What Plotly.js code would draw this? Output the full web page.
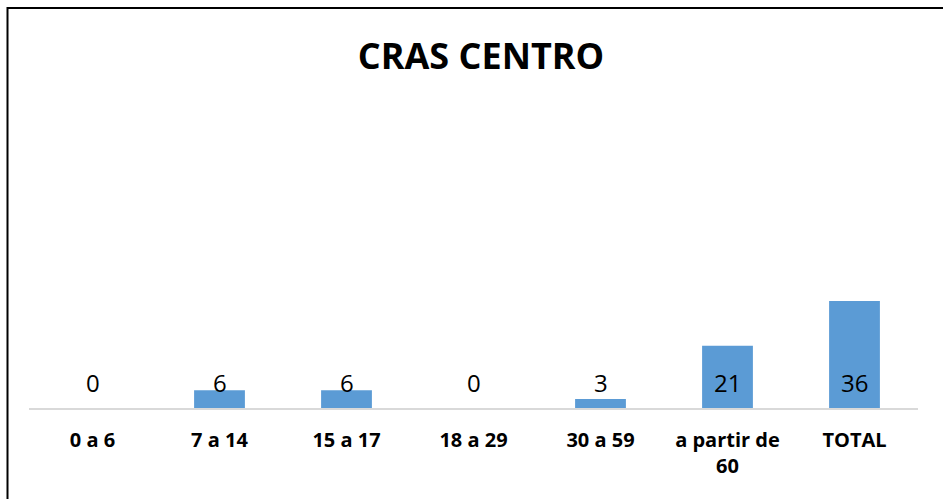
<!DOCTYPE html>
<html>
<head>
<meta charset="utf-8">
<script src="https://cdn.plot.ly/plotly-3.0.1.min.js"></script>
<style>html,body{margin:0;padding:0;background:#fff;}#chart{width:943px;height:499px;}</style>
</head>
<body>
<div id="chart"></div>
<script>
var categories = ["0 a 6", "7 a 14", "15 a 17", "18 a 29", "30 a 59", "a partir de<br>60", "TOTAL"];
var values = [0, 6, 6, 0, 3, 21, 36];
var labelLevel = 8.5;

var annotations = categories.map(function (c, i) {
  return {
    x: c, y: labelLevel, xref: 'x', yref: 'y',
    text: String(values[i]), showarrow: false,
    font: {family: 'Open Sans, sans-serif', size: 24, color: '#000'},
    yanchor: 'middle'
  };
});

var data = [{
  type: 'bar',
  x: categories,
  y: values,
  marker: {color: '#5B9BD5'},
  hoverinfo: 'none'
}];

var layout = {
  width: 943, height: 499,
  margin: {l: 29, r: 25, t: 111, b: 91},
  paper_bgcolor: '#fff', plot_bgcolor: '#fff',
  bargap: 0.6,
  showlegend: false,
  title: {
    text: 'CRAS CENTRO',
    font: {family: 'Open Sans, sans-serif', size: 36, color: '#000', weight: 'bold'},
    x: 481 / 943, xanchor: 'center', xref: 'container',
    y: 1 - 56 / 499, yanchor: 'middle', yref: 'container'
  },
  xaxis: {
    showline: true, linecolor: '#D9D9D9', linewidth: 2,
    ticks: 'outside', ticklen: 13, tickcolor: 'rgba(0,0,0,0)',
    tickfont: {family: 'Open Sans, sans-serif', size: 20, color: '#000', weight: 'bold'},
    showgrid: false, zeroline: false, fixedrange: true
  },
  yaxis: {
    range: [0, 100], visible: false, showgrid: false, zeroline: false, fixedrange: true
  },
  annotations: annotations,
  shapes: [{
    type: 'rect', xref: 'paper', yref: 'paper',
    x0: (7.5 - 29) / 889, x1: (960 - 29) / 889,
    y0: (408 - 520) / 297, y1: (408 - 8) / 297,
    line: {color: '#000', width: 2}, fillcolor: 'rgba(0,0,0,0)', layer: 'above'
  }]
};

Plotly.newPlot('chart', data, layout, {staticPlot: true, displayModeBar: false});
</script>
</body>
</html>
